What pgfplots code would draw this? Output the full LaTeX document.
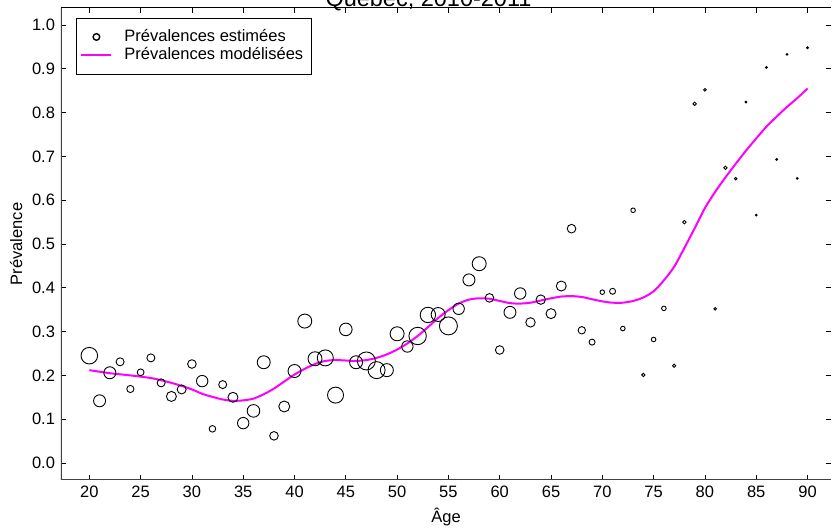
\documentclass[border=0pt]{standalone}
\usepackage{fontspec}
\setmainfont{Liberation Sans}
\usepackage{pgfplots}
\usepackage{pgfplotstable}
\pgfplotsset{compat=1.18}
\newcommand\fs{\fontsize{16.5}{19.8}\selectfont}
\definecolor{magline}{RGB}{255,0,255}

\pgfplotstableread{
x y r
20 0.245 8.3
21 0.142 6.0
22 0.206 6.0
23 0.231 4.0
24 0.169 3.6
25 0.207 3.4
26 0.240 4.0
27 0.183 4.0
28 0.152 5.0
29 0.168 4.5
30 0.226 4.3
31 0.187 5.7
32 0.078 3.3
33 0.179 4.0
34 0.150 5.0
35 0.091 5.7
36 0.119 6.3
37 0.230 6.5
38 0.062 4.3
39 0.129 5.5
40 0.210 6.5
41 0.324 7.0
42 0.238 7.0
43 0.240 8.0
44 0.155 8.0
45 0.305 6.3
46 0.230 6.5
47 0.233 9.0
48 0.212 8.5
49 0.212 6.5
50 0.295 7.0
51 0.266 5.7
52 0.290 8.7
53 0.338 7.7
54 0.339 7.0
55 0.313 9.0
56 0.352 5.7
57 0.418 6.0
58 0.455 7.0
59 0.377 4.3
60 0.258 4.3
61 0.344 6.0
62 0.387 5.7
63 0.321 4.7
64 0.373 4.7
65 0.341 5.0
66 0.404 5.0
67 0.535 4.3
68 0.303 3.7
69 0.276 3.0
70 0.390 2.3
71 0.392 3.0
72 0.307 2.3
73 0.577 2.3
74 0.201 1.7
75 0.282 2.3
76 0.353 2.3
77 0.222 1.7
78 0.550 1.7
79 0.820 1.7
80 0.852 1.3
81 0.352 1.3
82 0.674 1.7
83 0.649 1.3
84 0.824 0.9
85 0.566 0.9
86 0.903 0.9
87 0.693 0.9
88 0.933 0.9
89 0.650 0.9
90 0.948 0.9
}\estimees

\pgfplotstableread{
x y
20 0.212
22 0.205
24 0.200
26 0.194
27 0.189
28 0.183
29 0.176
30 0.168
31 0.158
32 0.151
33 0.145
34 0.142
35 0.143
36 0.147
37 0.157
38 0.170
39 0.186
40 0.202
41 0.215
42 0.226
43 0.233
44 0.235
45 0.234
46 0.233
47 0.235
48 0.240
49 0.248
50 0.259
51 0.273
52 0.290
53 0.310
54 0.331
55 0.349
56 0.364
57 0.373
58 0.376
59 0.375
60 0.370
61 0.365
62 0.364
63 0.366
64 0.371
65 0.376
66 0.380
67 0.381
68 0.379
69 0.374
70 0.369
71 0.366
72 0.366
73 0.370
74 0.378
75 0.392
76 0.417
77 0.448
78 0.491
79 0.536
80 0.582
81 0.619
82 0.652
83 0.683
84 0.713
85 0.741
86 0.768
87 0.791
88 0.813
89 0.833
90 0.855
}\modelisees

\begin{document}
\begin{tikzpicture}
\path[use as bounding box] (0,0) rectangle (833pt,530pt);
\node[font=\fontsize{23.5}{28}\selectfont, anchor=base] at (428.5pt,523.5pt) {Québec, 2010-2011};
\begin{axis}[
  at={(61pt,50pt)}, anchor=south west,
  scale only axis, width=770pt, height=472pt,
  xmin=17.24, xmax=92.29, ymin=-0.0388, ymax=1.0388,
  xtick={20,25,...,90},
  ytick={0,0.1,...,1.0},
  yticklabel style={/pgf/number format/fixed, /pgf/number format/fixed zerofill, /pgf/number format/precision=1},
  /pgf/number format/assume math mode=true,
  tick align=inside,
  major tick length=5pt,
  tick style={black, line width=0.8pt},
  tick label style={font=\fs},
  x tick label style={yshift=-2.5pt},
  y tick label style={xshift=-2.5pt},
  xlabel={Âge},
  ylabel={Prévalence},
  every axis x label/.style={at={(axis description cs:0.5,-0.0911)}, anchor=base, font=\fs},
  every axis y label/.style={at={(axis description cs:-0.0584,0.5)}, rotate=90, anchor=center, font=\fs},
  axis line style={draw=none},
  legend style={font=\fs, at={(axis description cs:0.0195,0.979)}, anchor=north west,
    inner xsep=4pt, inner ysep=9.5pt, column sep=8pt, line width=0.8pt, draw=black,
    nodes={inner xsep=4pt, inner ysep=1pt, text height=12.5pt, text depth=3.8pt}},
  legend cell align=left,
  legend image code/.code={\draw[mark repeat=2,mark phase=2,#1] plot coordinates {(0pt,0pt) (15pt,0pt) (30pt,0pt)};},
]
\draw[black!75, line width=1.5pt] (rel axis cs:0,1) -- (rel axis cs:0,0) -- (rel axis cs:1,0);
\draw[black, line width=1pt] (rel axis cs:0,1) -- (rel axis cs:1,1);

\addplot[scatter, only marks, mark=o, line width=0.9pt,
  scatter/use mapped color={draw=black, fill=none},
  visualization depends on={\thisrow{r} \as \rad},
  scatter/@pre marker code/.append style={/tikz/mark size=\rad pt},
  forget plot] table[x=x, y=y] {\estimees};

\addplot[magline, line width=2pt, smooth, forget plot] table[x=x, y=y] {\modelisees};

\addlegendimage{only marks, mark=o, mark size=3.3pt, black, line width=1.4pt}
\addlegendentry{Prévalences estimées}
\addlegendimage{magline, line width=2pt}
\addlegendentry{Prévalences modélisées}
\end{axis}
\end{tikzpicture}
\end{document}
